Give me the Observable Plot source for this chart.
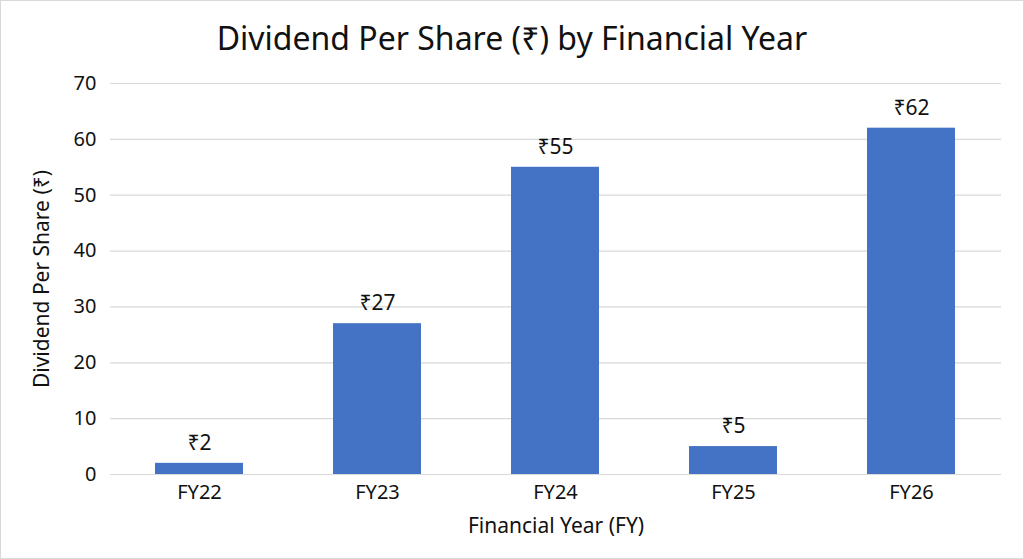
<!DOCTYPE html>
<html>
<head>
<meta charset="utf-8">
<script src="https://cdn.jsdelivr.net/npm/d3@7"></script>
<script src="https://cdn.jsdelivr.net/npm/@observablehq/plot@0.6"></script>
<style>
  html, body { margin: 0; padding: 0; background: #fff; }
  #wrap { position: relative; width: 1022px; height: 557px; border: 1px solid #d9d9d9; overflow: hidden; font-family: "Noto Sans", sans-serif; }
  #title { height: 61px; line-height: 74px; text-align: center; font-size: 32px; color: #111; }
</style>
</head>
<body>
<div id="wrap">
  <div id="title">Dividend Per Share (₹) by Financial Year</div>
  <div id="chart"></div>
</div>
<script>
const years = ["FY22", "FY23", "FY24", "FY25", "FY26"];
const dividends = [2, 27, 55, 5, 62];
const yTicks = [0, 10, 20, 30, 40, 50, 60, 70];

const data = years.map((y, i) => ({year: y, value: dividends[i]}));

const chart = Plot.plot({
  width: 1022,
  height: 496,
  marginTop: 21,
  marginBottom: 84,
  marginLeft: 109,
  marginRight: 22,
  style: {fontFamily: "Noto Sans, sans-serif", fontSize: "20px", color: "#111", background: "#fff"},
  x: {domain: years, paddingInner: 0.505, paddingOuter: 0.253, label: null},
  y: {domain: [0, 70], ticks: yTicks, label: null},
  marks: [
    Plot.ruleY(yTicks, {stroke: "#d9d9d9", strokeWidth: 1.2}),
    Plot.barY(data, {x: "year", y: "value", fill: "#4472C4"}),
    Plot.text(data, {x: "year", y: "value", text: d => "₹" + d.value, dy: -20, fontSize: 21, fill: "#111"}),
    Plot.axisX({tickSize: 0, tickPadding: 10, fontSize: 20, label: "Financial Year (FY)", labelAnchor: "center", labelOffset: 58, labelArrow: "none"}),
    Plot.axisY({ticks: yTicks, tickSize: 0, tickPadding: 14, fontSize: 20, label: "Dividend Per Share (₹)", labelAnchor: "center", labelOffset: 76, labelArrow: "none"})
  ]
});
chart.querySelectorAll('[aria-label="x-axis label"] text, [aria-label="y-axis label"] text').forEach(t => t.setAttribute("font-size", "21"));
document.getElementById("chart").appendChild(chart);
</script>
</body>
</html>
